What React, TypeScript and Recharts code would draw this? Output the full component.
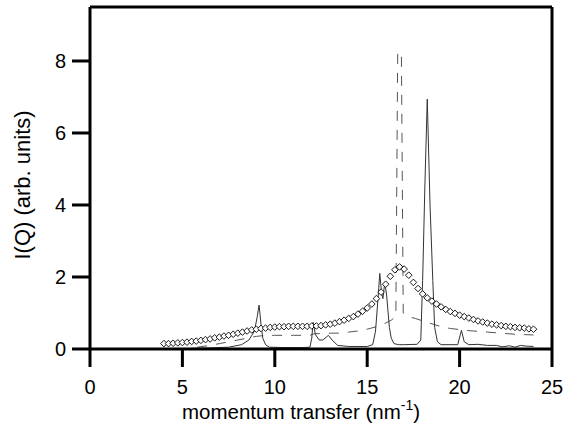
import React from "react";
import {
  ComposedChart,
  Line,
  Scatter,
  XAxis,
  YAxis,
  ReferenceLine,
} from "recharts";

// solid trace
const solidQ = [5.5, 6.5, 7.5, 8.2, 8.6, 8.9, 9.05, 9.15, 9.25, 9.35, 9.5, 9.7, 10.5, 11.5, 11.9, 12.0, 12.07, 12.2, 12.4, 12.6, 12.9, 13.1, 13.4, 14.0, 15.0, 15.3, 15.45, 15.6, 15.68, 15.78, 15.85, 15.95, 16.05, 16.2, 16.3, 16.45, 16.7, 17.0, 17.7, 17.9, 18.0, 18.12, 18.25, 18.4, 18.55, 18.65, 18.8, 19.0, 19.9, 20.1, 20.25, 20.5, 21.0, 21.5, 22.0, 22.3, 22.7, 23.0, 23.3, 23.6, 24.0];
const solidI = [0.02, 0.03, 0.05, 0.12, 0.25, 0.5, 0.9, 1.22, 0.7, 0.3, 0.12, 0.05, 0.04, 0.04, 0.05, 0.3, 0.74, 0.4, 0.25, 0.25, 0.38, 0.25, 0.1, 0.07, 0.07, 0.12, 0.5, 1.5, 2.1, 1.55, 1.4, 1.85, 1.5, 0.6, 0.3, 0.15, 0.12, 0.12, 0.13, 0.25, 1.9, 4.5, 6.94, 4.0, 1.9, 0.6, 0.2, 0.12, 0.12, 0.52, 0.2, 0.12, 0.13, 0.1, 0.1, 0.06, 0.09, 0.05, 0.1, 0.08, 0.07];

// dashed trace
const dashQ = [5.8, 6.5, 7.0, 7.5, 8.0, 8.5, 9.0, 9.5, 10.0, 11.0, 11.9, 12.1, 12.5, 13.0, 13.5, 14.0, 14.5, 15.0, 15.5, 16.0, 16.3, 16.55, 16.65, 16.85, 16.95, 17.2, 17.6, 18.0, 18.5, 19.0, 19.5, 20.0, 20.5, 21.0, 21.5, 22.0, 22.5, 23.0, 23.5, 24.0];
const dashI = [0.05, 0.1, 0.15, 0.2, 0.25, 0.3, 0.35, 0.38, 0.38, 0.38, 0.38, 0.42, 0.43, 0.44, 0.44, 0.47, 0.5, 0.55, 0.62, 0.72, 0.8, 0.9, 8.2, 8.25, 1.0, 0.9, 0.85, 0.78, 0.7, 0.62, 0.57, 0.54, 0.51, 0.49, 0.47, 0.45, 0.43, 0.41, 0.4, 0.39];

// open diamonds
const diaQ = [4.0, 4.25, 4.5, 4.75, 5.0, 5.25, 5.5, 5.75, 6.0, 6.25, 6.5, 6.75, 7.0, 7.25, 7.5, 7.75, 8.0, 8.25, 8.5, 8.75, 9.0, 9.25, 9.5, 9.75, 10.0, 10.25, 10.5, 10.75, 11.0, 11.25, 11.5, 11.75, 12.0, 12.25, 12.5, 12.75, 13.0, 13.25, 13.5, 13.75, 14.0, 14.25, 14.5, 14.75, 15.0, 15.25, 15.5, 15.75, 16.0, 16.25, 16.5, 16.75, 17.0, 17.25, 17.5, 17.75, 18.0, 18.25, 18.5, 18.75, 19.0, 19.25, 19.5, 19.75, 20.0, 20.25, 20.5, 20.75, 21.0, 21.25, 21.5, 21.75, 22.0, 22.25, 22.5, 22.75, 23.0, 23.25, 23.5, 23.75, 24.0];
const diaI = [0.15, 0.15, 0.16, 0.17, 0.18, 0.19, 0.21, 0.22, 0.24, 0.26, 0.28, 0.31, 0.33, 0.36, 0.38, 0.41, 0.44, 0.47, 0.5, 0.53, 0.55, 0.57, 0.58, 0.6, 0.61, 0.62, 0.62, 0.63, 0.63, 0.63, 0.63, 0.63, 0.64, 0.64, 0.65, 0.67, 0.69, 0.72, 0.76, 0.8, 0.85, 0.9, 0.97, 1.05, 1.14, 1.25, 1.4, 1.58, 1.8, 2.02, 2.2, 2.28, 2.22, 2.05, 1.85, 1.68, 1.53, 1.42, 1.33, 1.25, 1.17, 1.1, 1.04, 0.99, 0.94, 0.9, 0.86, 0.82, 0.78, 0.75, 0.72, 0.69, 0.67, 0.65, 0.63, 0.62, 0.6, 0.59, 0.58, 0.56, 0.55];

const xTicks = [0, 5, 10, 15, 20, 25];
const yTicks = [0, 2, 4, 6, 8];

const solid = solidQ.map((x, i) => ({ x, y: solidI[i] }));
const dashed = dashQ.map((x, i) => ({ x, y: dashI[i] }));
const diamonds = diaQ.map((x, i) => ({ x, y: diaI[i] }));

const FONT = "'Liberation Sans', Arial, Helvetica, sans-serif";
const tickStyle = { fontSize: 20, fill: "#000", fontFamily: FONT };
const axisLine = { stroke: "#000", strokeWidth: 3 };

const Diamond = (props: any) => {
  const { cx, cy } = props;
  if (cx == null || cy == null) return null;
  const r = 3.3;
  return (
    <polygon
      points={`${cx},${cy - r} ${cx + r},${cy} ${cx},${cy + r} ${cx - r},${cy}`}
      fill="#fff"
      stroke="#000"
      strokeWidth={0.9}
    />
  );
};

const XLabel = () => (
  <text x={301} y={419} textAnchor="middle" fontSize={20.5} fontFamily={FONT} fill="#000">
    momentum transfer (nm
    <tspan fontSize={14} dy={-9}>-1</tspan>
    <tspan dy={9}>)</tspan>
  </text>
);

const YLabel = () => (
  <text
    x={22}
    y={185}
    transform="rotate(-90 22 185)"
    textAnchor="middle"
    dominantBaseline="central"
    fontSize={22}
    fontFamily={FONT}
    fill="#000"
  >
    I(Q) (arb. units)
  </text>
);

export default function App() {
  return (
    <div style={{ position: "absolute", left: 0, top: 0, background: "#fff" }}>
      <ComposedChart
        width={563}
        height={431}
        margin={{ top: 7, right: 11, bottom: 0, left: 0 }}
      >
        <XAxis
          type="number"
          dataKey="x"
          domain={[0, 25]}
          ticks={xTicks}
          tickSize={18}
          tickMargin={13}
          tick={tickStyle}
          axisLine={axisLine}
          tickLine={axisLine}
          height={82}
          allowDataOverflow
          label={{ content: XLabel }}
        />
        <YAxis
          type="number"
          domain={[0, 9.5]}
          ticks={yTicks}
          tickSize={18}
          tickMargin={6}
          tick={tickStyle}
          axisLine={axisLine}
          tickLine={axisLine}
          width={90}
          allowDataOverflow
          label={{ content: YLabel }}
        />
        <ReferenceLine y={9.5} stroke="#000" strokeWidth={3} />
        <ReferenceLine x={25} stroke="#000" strokeWidth={3} />
        <Line
          data={dashed}
          dataKey="y"
          type="linear"
          stroke="#555"
          strokeWidth={1}
          strokeDasharray="10 9"
          dot={false}
          isAnimationActive={false}
        />
        <Line
          data={solid}
          dataKey="y"
          type="linear"
          stroke="#333"
          strokeWidth={1}
          dot={false}
          isAnimationActive={false}
        />
        <Scatter
          data={diamonds}
          dataKey="y"
          shape={Diamond}
          isAnimationActive={false}
        />
      </ComposedChart>
    </div>
  );
}
